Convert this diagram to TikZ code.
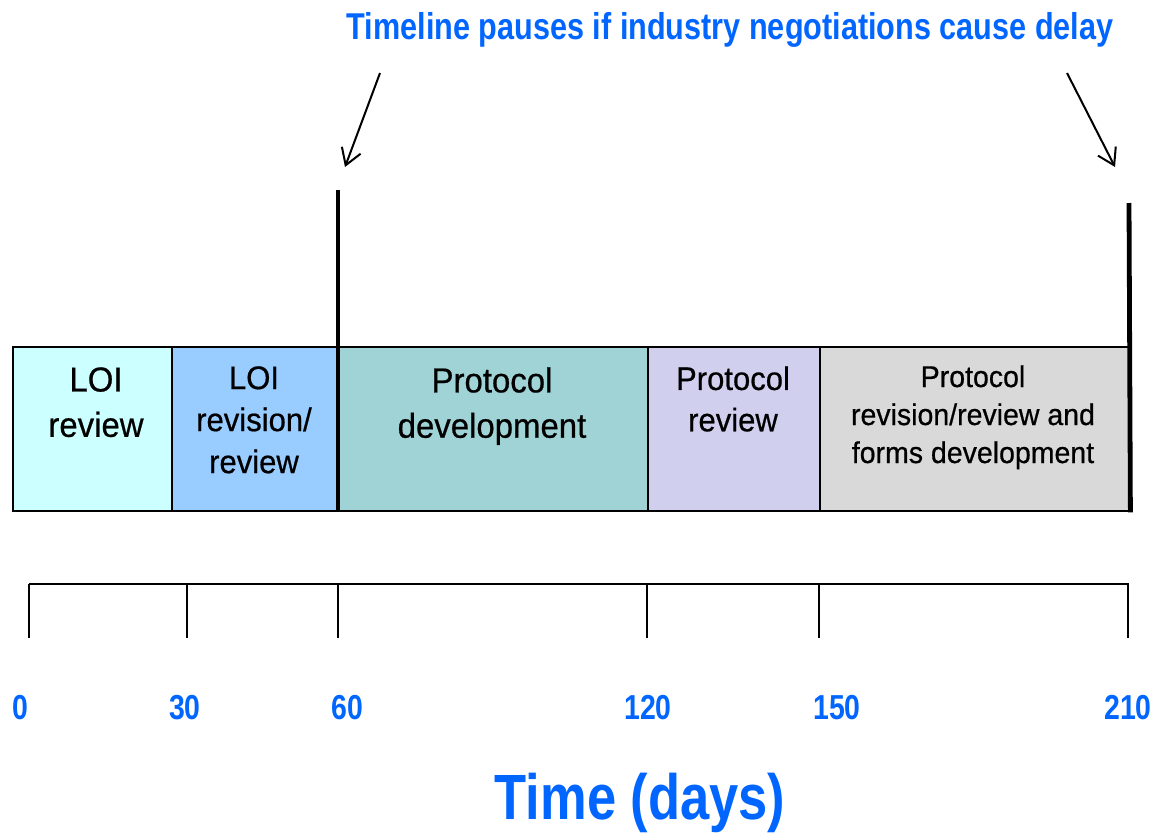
\documentclass[tikz,border=0pt]{standalone}
\usepackage{fontspec}
\setmainfont{Liberation Sans}[FakeStretch=0.82]
\newfontfamily\boxfont{Liberation Sans}[FakeStretch=0.95,FakeBold=0.6]
\usepackage{tikz}
\usetikzlibrary{arrows.meta}

\definecolor{timeblue}{RGB}{0,102,255}
\definecolor{loicyan}{RGB}{204,255,255}
\definecolor{loiblue}{RGB}{153,204,255}
\definecolor{prototeal}{RGB}{160,211,214}
\definecolor{protolav}{RGB}{208,208,238}
\definecolor{formsgray}{RGB}{217,217,217}

\tikzset{
  phase/.style={draw=black, line width=1.8pt, inner sep=0pt, anchor=north west, minimum height=0.75*164pt},
  phasetext/.style={inner sep=0pt, anchor=north, align=center},
  pauseline/.style={line width=3.6pt},
  pausearrow/.style={line width=1.5pt, -{Straight Barb[length=12pt,width=15pt]}},
  axisline/.style={line width=2.2pt},
  tickline/.style={line width=1.5pt},
  daylabel/.style={inner sep=0pt, anchor=base, text=timeblue, font=\fontsize{26}{30}\selectfont\bfseries}
}

\begin{document}
\begin{tikzpicture}[x=0.75pt,y=0.75pt,yscale=-1,xscale=1]
  \useasboundingbox (0,0) rectangle (1155,832);

  % Title
  \node[inner sep=0pt, anchor=base, text=timeblue, font=\fontsize{28}{30}\selectfont\bfseries] (pauseNote) at (730,39) {Timeline pauses if industry negotiations cause delay};

  % Phase boxes
  \node[phase, fill=loicyan, minimum width=0.75*159pt] (loiRev) at (12,346) {};
  \node[phase, fill=loiblue, minimum width=0.75*167pt] (loiRevis) at (171,346) {};
  \node[phase, fill=prototeal, minimum width=0.75*309pt] (protoDev) at (338,346) {};
  \node[phase, fill=protolav, minimum width=0.75*172pt] (protoRev) at (647,346) {};
  \node[phase, fill=formsgray, minimum width=0.75*309pt] (formsDev) at (819,346) {};

  % Phase texts
  \node[phasetext, font=\boxfont\fontsize{26}{34}\selectfont] (loiRevTxt) at (96,367) {LOI\\review};
  \node[phasetext, font=\boxfont\fontsize{24.5}{31.5}\selectfont] (loiRevisTxt) at (254,366) {LOI\\revision/\\review};
  \node[phasetext, font=\boxfont\fontsize{26}{34}\selectfont] (protoDevTxt) at (492,367) {Protocol\\development};
  \node[phasetext, font=\boxfont\fontsize{24.5}{31}\selectfont] (protoRevTxt) at (733,366) {Protocol\\review};
  \node[phasetext, font=\boxfont\fontsize{22.5}{28.5}\selectfont] (formsDevTxt) at (973,365) {Protocol\\revision/review and\\forms development};

  % Pause markers
  \coordinate (pauseA) at (338,190);
  \coordinate (pauseB) at (1129,203);
  \draw[pauseline] (pauseA) -- (protoDev.south west);
  \draw[pauseline] (pauseB) -- (formsDev.south east);

  \coordinate (arrAstart) at (380,73);
  \coordinate (arrAend) at (345,167);
  \coordinate (arrBstart) at (1067,73);
  \coordinate (arrBend) at (1115,167);
  \draw[pausearrow] (arrAstart) -- (arrAend);
  \draw[pausearrow] (arrBstart) -- (arrBend);

  % Time axis
  \coordinate (axisStart) at (29,584);
  \coordinate (axisEnd) at (1129,584);
  \draw[axisline] (axisStart) -- (axisEnd);
  \foreach \tx/\day/\lx in {29/0/20, 187/30/185, 338/60/347, 647/120/648, 819/150/837, 1128/210/1128}{
    \draw[tickline] (\tx,584) -- (\tx,638);
    \node[daylabel] (day\day) at (\lx,719) {\day};
  }

  \node[inner sep=0pt, anchor=base, text=timeblue, font=\fontsize{48}{52}\selectfont\bfseries] (timeDays) at (640,819) {Time (days)};
\end{tikzpicture}
\end{document}
